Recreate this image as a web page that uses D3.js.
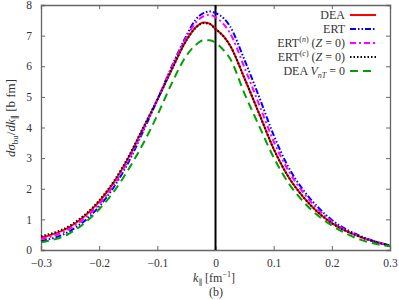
<!DOCTYPE html>
<html>
<head>
<meta charset="utf-8">
<script src="https://cdn.jsdelivr.net/npm/d3@7"></script>
<style>
  body { margin: 0; background: #fff; }
  svg text { font-family: "Liberation Serif", "DejaVu Serif", serif; }
</style>
</head>
<body>
<script>
// k_parallel grid (fm^-1)
const kGrid = [-0.3, -0.25, -0.2, -0.175, -0.15, -0.125, -0.1, -0.075, -0.05, -0.035, -0.02, -0.01,
               0, 0.015, 0.025, 0.05, 0.075, 0.1, 0.125, 0.15, 0.175, 0.2, 0.25, 0.3];

// cross sections (b fm)
const dea   = [0.40, 0.76, 1.58, 2.20, 3.00, 3.95, 4.90, 5.90, 6.85, 7.25, 7.43, 7.39,
               7.22, 6.95, 6.68, 5.60, 4.45, 3.30, 2.40, 1.75, 1.25, 0.88, 0.42, 0.14];
const ert   = [0.29, 0.62, 1.42, 2.05, 2.85, 3.85, 4.90, 6.00, 7.00, 7.50, 7.74, 7.79,
               7.74, 7.55, 7.30, 6.20, 5.00, 3.75, 2.72, 1.98, 1.42, 0.98, 0.45, 0.15];
const ertN  = [0.35, 0.70, 1.50, 2.12, 2.93, 3.90, 4.92, 5.98, 6.95, 7.40, 7.64, 7.68,
               7.60, 7.35, 7.08, 5.95, 4.75, 3.55, 2.60, 1.90, 1.35, 0.93, 0.43, 0.15];
const ertC  = [0.45, 0.80, 1.62, 2.24, 3.03, 3.97, 4.91, 5.90, 6.85, 7.24, 7.41, 7.38,
               7.22, 6.95, 6.68, 5.60, 4.45, 3.30, 2.40, 1.75, 1.25, 0.88, 0.42, 0.14];
const deaV0 = [0.25, 0.55, 1.33, 1.90, 2.62, 3.45, 4.40, 5.45, 6.35, 6.68, 6.85, 6.85,
               6.77, 6.50, 6.25, 5.10, 4.05, 3.02, 2.20, 1.60, 1.14, 0.80, 0.33, 0.12];

const xTicks = [-0.3, -0.2, -0.1, 0, 0.1, 0.2, 0.3];
const yTicks = [0, 1, 2, 3, 4, 5, 6, 7, 8];

const series = [
  {key: "dea",  values: dea,   color: "#ff0000", dash: null},
  {key: "ert",  values: ert,   color: "#0000ff", dash: "6,2,1.5,2,1.5,2"},
  {key: "ertN", values: ertN,  color: "#ff00ff", dash: "6,3,2,3"},
  {key: "ertC", values: ertC,  color: "#000000", dash: "1.5,2"},
  {key: "v0",   values: deaV0, color: "#00a000", dash: "8,5"}
];

const W = 399, H = 300;
const margin = {top: 5, right: 9, bottom: 50, left: 41};
const iw = W - margin.left - margin.right,
      ih = H - margin.top - margin.bottom;

const svg = d3.select("body").append("svg")
    .attr("width", W)
    .attr("height", H);

const g = svg.append("g")
    .attr("transform", "translate(" + margin.left + "," + margin.top + ")");

const x = d3.scaleLinear().domain([-0.3, 0.3]).range([0, iw]);
const y = d3.scaleLinear().domain([0, 8]).range([ih, 0]);

// axes, ticks pointing inward, mirrored
const fmtX = d => d === 0 ? "0" : d3.format(".1f")(d);
g.append("g").attr("transform", "translate(0," + ih + ")")
    .call(d3.axisBottom(x).tickValues(xTicks).tickSize(-4).tickPadding(9).tickFormat(fmtX));
g.append("g")
    .call(d3.axisTop(x).tickValues(xTicks).tickSize(-4).tickFormat(""));
g.append("g")
    .call(d3.axisLeft(y).tickValues(yTicks).tickSize(-4).tickPadding(9));
g.append("g").attr("transform", "translate(" + iw + ",0)")
    .call(d3.axisRight(y).tickValues(yTicks).tickSize(-4).tickFormat(""));

g.selectAll(".domain").attr("stroke", "#666").attr("stroke-width", 1.3);
g.selectAll(".tick line").attr("stroke", "#666").attr("stroke-width", 1);
g.selectAll(".tick text").attr("font-size", 11.5).attr("fill", "#333")
    .attr("font-family", "Liberation Serif");

// x = 0 line
g.append("line")
    .attr("x1", x(0)).attr("x2", x(0))
    .attr("y1", 0).attr("y2", ih)
    .attr("stroke", "#000").attr("stroke-width", 2);

// curves
const line = d3.line()
    .x((d, i) => x(kGrid[i]))
    .y(d => y(d))
    .curve(d3.curveMonotoneX);

series.forEach(s => {
  g.append("path")
      .datum(s.values)
      .attr("d", line)
      .attr("fill", "none")
      .attr("stroke", s.color)
      .attr("stroke-width", 2)
      .attr("stroke-dasharray", s.dash);
});

// legend
const legend = g.append("g");
const rows = legend.selectAll("g").data(series).enter().append("g")
    .attr("transform", (d, i) => "translate(0," + (10 + i * 14) + ")");
rows.append("line")
    .attr("x1", 309).attr("x2", 335)
    .attr("stroke", d => d.color).attr("stroke-width", 2)
    .attr("stroke-dasharray", d => d.dash);
const lt = rows.append("text")
    .attr("x", 304).attr("dy", "0.35em")
    .attr("text-anchor", "end")
    .attr("font-size", 12).attr("fill", "#333");

lt.each(function(d) {
  const t = d3.select(this);
  if (d.key === "dea") t.text("DEA");
  else if (d.key === "ert") t.text("ERT");
  else if (d.key === "ertN" || d.key === "ertC") {
    t.append("tspan").text("ERT");
    t.append("tspan").attr("dy", -5).attr("font-size", 8).text("(")
      .append("tspan").attr("font-style", "italic").text(d.key === "ertN" ? "n" : "c");
    t.append("tspan").attr("font-size", 8).text(")");
    t.append("tspan").attr("dy", 5).text(" (");
    t.append("tspan").attr("font-style", "italic").text("Z");
    t.append("tspan").text(" = 0)");
  } else {
    t.append("tspan").text("DEA ");
    t.append("tspan").attr("font-style", "italic").text("V");
    t.append("tspan").attr("dy", 3).attr("font-size", 8).attr("font-style", "italic").text("nT");
    t.append("tspan").attr("dy", -3).text(" = 0");
  }
});

// x label
const xl = svg.append("text")
    .attr("x", 214).attr("y", 282)
    .attr("text-anchor", "middle")
    .attr("font-size", 12).attr("fill", "#333");
xl.append("tspan").attr("font-style", "italic").text("k");
xl.append("tspan").attr("dy", 3).attr("font-size", 8).text("\u2225");
xl.append("tspan").attr("dy", -3).text(" [fm");
xl.append("tspan").attr("dy", -5).attr("font-size", 8).text("\u22121");
xl.append("tspan").attr("dy", 5).text("]");

svg.append("text")
    .attr("x", 216).attr("y", 296)
    .attr("text-anchor", "middle")
    .attr("font-size", 12).attr("fill", "#333")
    .text("(b)");

// y label
const yl = svg.append("text")
    .attr("transform", "translate(15,118) rotate(-90)")
    .attr("text-anchor", "middle")
    .attr("font-size", 13).attr("fill", "#333");
yl.append("tspan").attr("font-style", "italic").text("d\u03c3");
yl.append("tspan").attr("dy", 3).attr("font-size", 9).text("bu");
yl.append("tspan").attr("dy", -3).text("/");
yl.append("tspan").attr("font-style", "italic").text("dk");
yl.append("tspan").attr("dy", 3).attr("font-size", 9).text("\u2225");
yl.append("tspan").attr("dy", -3).text(" [b fm]");
</script>
</body>
</html>
